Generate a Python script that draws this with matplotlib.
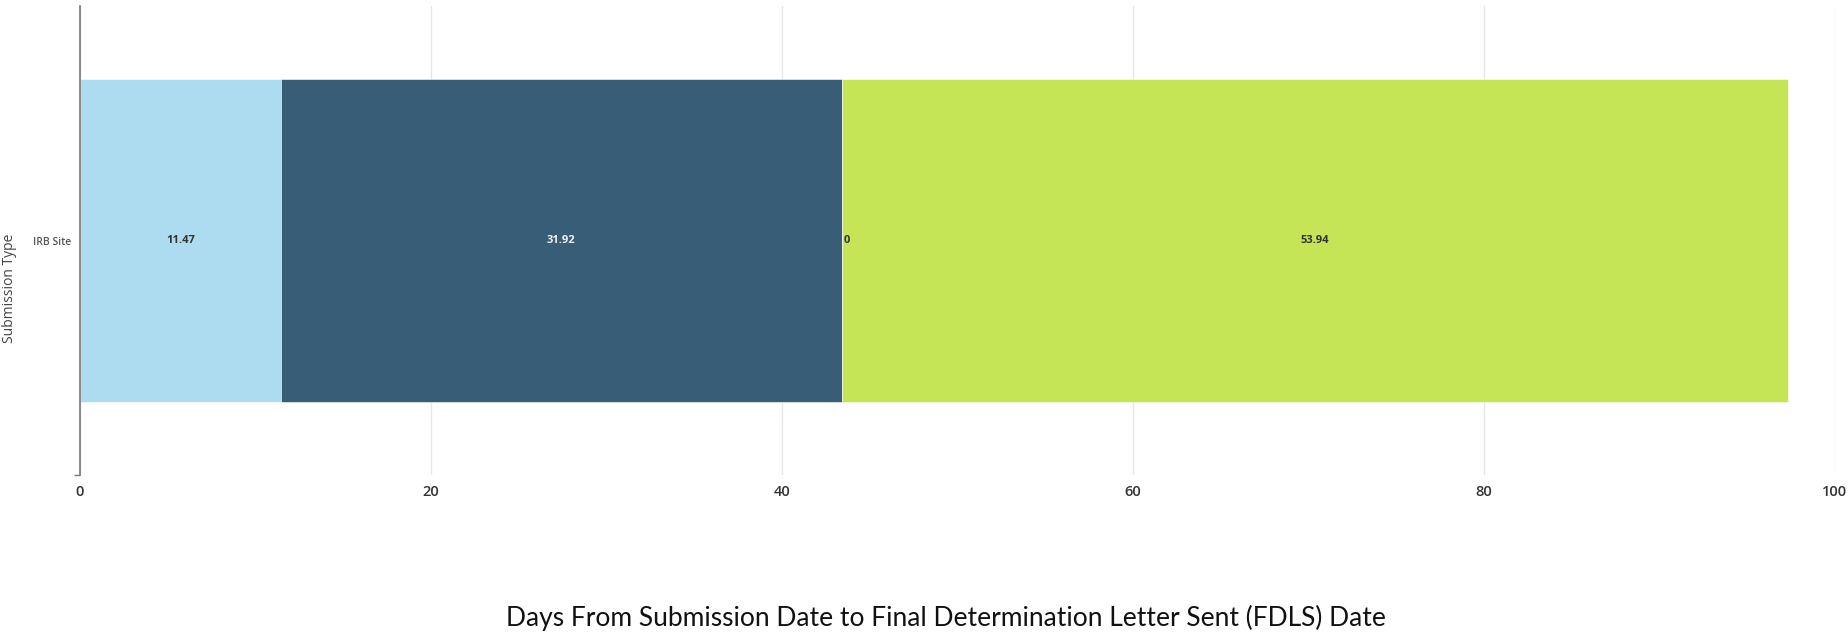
import matplotlib
matplotlib.use("Agg")
import matplotlib.pyplot as plt
from matplotlib.ticker import FixedLocator

categories = ["IRB Site"]
segments = [11.47, 31.92, 0, 53.94]
seg_colors = ["#addcf0", "#375d77", "#c5e557", "#c5e557"]
label_colors = ["#333333", "#f0f0f0", "#333333", "#333333"]
x_ticks = [0, 20, 40, 60, 80, 100]

plt.rcParams['font.family'] = ['Open Sans', 'DejaVu Sans']

fig = plt.figure(figsize=(18.49, 6.34), dpi=100)
ax = fig.add_axes([0.0433, 0.2508, 0.9491, 0.7397])

left = 0
for val, col, lcol in zip(segments, seg_colors, label_colors):
    ax.barh(0, val, left=left, height=0.689, color=col,
            edgecolor="#ffffff", linewidth=0.4, zorder=2)
    if val == 0:
        ax.annotate("0", (left, 0), xytext=(1.5, 0), textcoords="offset points",
                    ha="left", va="center", fontsize=8, fontweight="bold",
                    color=lcol, zorder=3)
    else:
        ax.text(left + val / 2, 0, f"{val:.2f}", ha="center", va="center",
                fontsize=8, fontweight="bold", color=lcol, zorder=3)
    left += val

ax.set_xlim(0, 100)
ax.set_ylim(-0.5, 0.5)
ax.set_xticks(x_ticks)
ax.set_xticklabels([str(t) for t in x_ticks], fontsize=10.5,
                   color="#333333", fontweight="semibold")
ax.set_yticks([0])
ax.set_yticklabels(categories, fontsize=7.5, color="#555555",
                   fontweight="semibold")
ax.yaxis.set_minor_locator(FixedLocator([-0.5]))
ax.tick_params(axis="y", which="major", length=0, pad=6.5)
ax.tick_params(axis="y", which="minor", length=4, color="#777777", width=1)
ax.tick_params(axis="x", length=0, pad=7)

ax.grid(axis="x", color="#e6e6e6", linewidth=1, zorder=0)
ax.set_axisbelow(True)
for s in ["top", "right", "bottom"]:
    ax.spines[s].set_visible(False)
ax.spines["left"].set_color("#777777")
ax.spines["left"].set_linewidth(1.2)
ax.spines["left"].set_zorder(4)

fig.text(10 / 1849, 1 - 288 / 634, "Submission Type", rotation=90,
         ha="center", va="center", fontsize=10, color="#444444")
fig.text(946 / 1849, 1 - 618 / 634,
         "Days From Submission Date to Final Determination Letter Sent (FDLS) Date",
         ha="center", va="center", fontsize=19, color="#111111",
         family=["Lato", "DejaVu Sans"])

fig.savefig("out.png", dpi=100)
